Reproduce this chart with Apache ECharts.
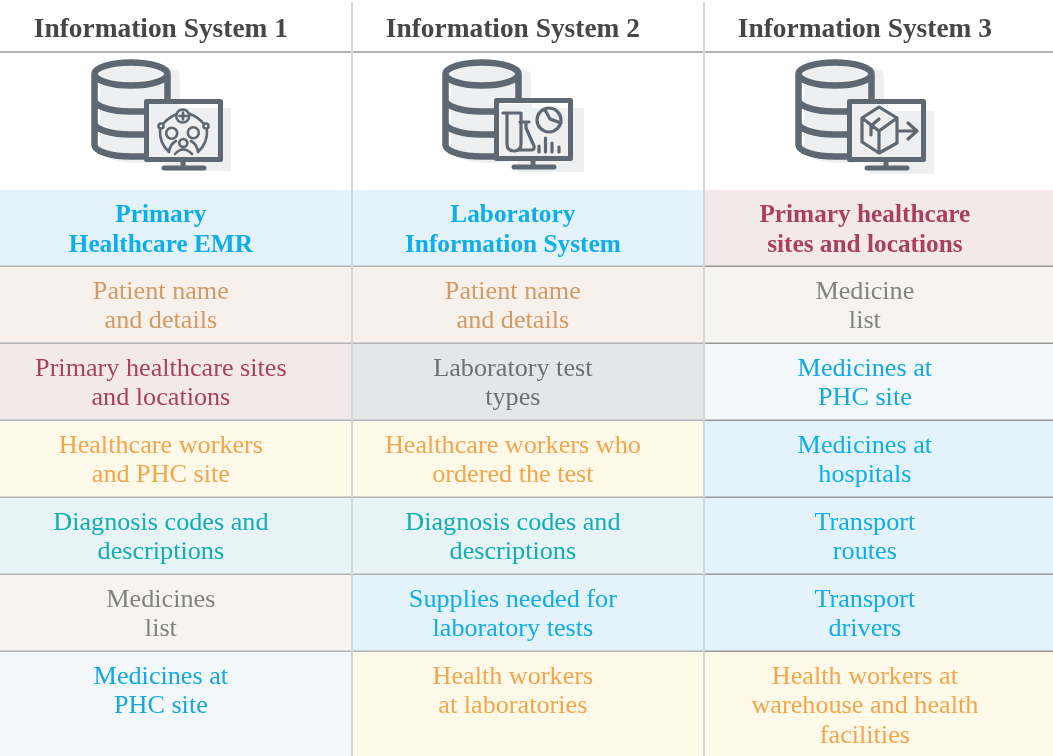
<!DOCTYPE html>
<html>
<head>
<meta charset="utf-8">
<title>Information systems</title>
<style>
html, body { margin: 0; padding: 0; background: #fff; }
#container { width: 1053px; height: 756px; }
</style>
<script src="https://cdn.jsdelivr.net/npm/echarts@6/dist/echarts.min.js"></script>
</head>
<body>
<div id="container"></div>
<script>
var systemNames = ['Information System 1', 'Information System 2', 'Information System 3'];

var system1Cells = ['Primary\nHealthcare EMR', 'Patient name\nand details', 'Primary healthcare sites\nand locations', 'Healthcare workers\nand PHC site', 'Diagnosis codes and\ndescriptions', 'Medicines\nlist', 'Medicines at\nPHC site'];
var system1Kinds = ['blue', 'patient', 'site', 'worker', 'diagnosis', 'list', 'stock'];

var system2Cells = ['Laboratory\nInformation System', 'Patient name\nand details', 'Laboratory test\ntypes', 'Healthcare workers who\nordered the test', 'Diagnosis codes and\ndescriptions', 'Supplies needed for\nlaboratory tests', 'Health workers\nat laboratories'];
var system2Kinds = ['blue', 'patient', 'test', 'worker', 'diagnosis', 'blue', 'worker'];

var system3Cells = ['Primary healthcare\nsites and locations', 'Medicine\nlist', 'Medicines at\nPHC site', 'Medicines at\nhospitals', 'Transport\nroutes', 'Transport\ndrivers', 'Health workers at\nwarehouse and health\nfacilities'];
var system3Kinds = ['site', 'list', 'stock', 'blue', 'blue', 'blue', 'worker'];

var kindColors = {
    blue: ['#e3f2fb', '#0fade9'],
    patient: ['#f8f1eb', '#d29a68'],
    site: ['#f3e9eb', '#a9405f'],
    test: ['#e5e6e8', '#6f7072'],
    worker: ['#fef9e9', '#f5a54a'],
    diagnosis: ['#e8f4f5', '#12aeb8'],
    list: ['#f6f4f1', '#828282'],
    stock: ['#f3f8fc', '#13a7e3']
};

var FONT = '"Liberation Serif", serif';
var INK = '#5d6872';
var SHADE = '#edeff1';
var COL_W = 352;
var ROW_H = 77;
var TABLE_TOP = 189;
var HEADER_ROW = -TABLE_TOP / ROW_H;
var TEXT_X = 0.457;

var columns = [[system1Cells, system1Kinds], [system2Cells, system2Kinds], [system3Cells, system3Kinds]];
var cellData = [];
columns.forEach(function (c, col) {
    c[0].forEach(function (t, row) {
        cellData.push([col, row, t, c[1][row]]);
    });
});

function solid(d, color) {
    return { type: 'path', shape: { pathData: d }, style: { fill: color } };
}
function stroke(d, w) {
    return { type: 'path', shape: { pathData: d }, style: { fill: 'none', stroke: INK, lineWidth: w, lineCap: 'round', lineJoin: 'round' } };
}
function ring(x, y, r) {
    return 'M' + (x - r) + ' ' + y + 'a' + r + ' ' + r + ' 0 1 0 ' + (2 * r) + ' 0a' + r + ' ' + r + ' 0 1 0 ' + (-2 * r) + ' 0';
}

// icon glyphs, in pixels from the top left of the picture
var glyphs = [
    ring(182.7, 116, 6.5) + 'M183 112.5v7M179.5 116h7' +
    ring(161, 126, 2.5) + ring(206, 126, 2.5) +
    ring(171.7, 133.3, 5.5) + ring(193.3, 132.7, 5.5) + ring(183.3, 143, 4) +
    'M175 154q8 -9 17 0M163 124q6 -7 14 -10M204 124q-6 -7 -14 -10' +
    'M160 129q-1 14 9 23q1 -8 7 -11M207 129q1 14 -9 23q-1 -8 -7 -11',
    'M503 113h17M507 113v31q0 7 7 7t7 -7v-31M520 122h9M526 122v6l8 18q1 4 -3 4h-14' +
    ring(549, 120, 12) + 'M545 110l5 9l11 4' +
    'M539 146v6M545.500 138v14M552 143v9M559 147v5',
    'M879 107l18 11v25l-18 10l-17 -11v-24zM862 118l17 13l18 -13M879 131v22' +
    'M879 119l-8 7v9M897 131h20M908 123l9 8l-9 8'
];
// per column nudges of the database and the monitor, plus the monitor shadow box
var iconShift = [
    { db: 0, screen: 0, up: 0, shadow: 'M165 108h66v63h-66z' },
    { db: -1, screen: -2, up: -1, shadow: 'M165 108h67v64h-67z' },
    { db: 0, screen: -1, up: 0, shadow: 'M165 111h65v63h-65z' }
];

function renderIcon(params, api) {
    var col = api.value(0);
    var s = iconShift[col];
    var origin = api.coord([col, HEADER_ROW]);
    var db = [
        solid('M100 75a40 11 0 0 1 80 0v76a40 12 0 0 1 -80 0z', SHADE),
        stroke('M94.500 74a36.500 11.500 0 1 0 73 0a36.500 11.500 0 1 0 -73 0' +
            'M94.500 74v71a36.500 11.500 0 0 0 36.500 11.500h16' +
            'M94.500 100a36.500 11.500 0 0 0 36.500 11.500h14' +
            'M94.500 123a36.500 11.500 0 0 0 36.500 11.500h14' +
            'M167.500 74v27', 6.5)
    ];
    var screen = [
        { type: 'rect', shape: { x: 146.500 + s.screen, y: 101.500 + s.up, width: 74, height: 58 }, style: { fill: '#fff' } },
        solid(s.shadow, SHADE),
        solid('M146 104h34v56h-34z', SHADE),
        { type: 'rect', shape: { x: 146.500 + s.screen, y: 101.500 + s.up, width: 74, height: 58 }, style: { fill: 'none', stroke: INK, lineWidth: 5, lineJoin: 'round' } },
        stroke('M' + (183 + s.screen) + ' ' + (160 + s.up) + 'v8M' + (164 + s.screen) + ' ' + (168 + s.up) + 'h40', 5)
    ];
    var glyph = stroke(glyphs[col], col === 0 ? 2.6 : 3.2);
    glyph.x = -COL_W * col;
    var children = [
        { type: 'group', x: s.db, children: db },
        { type: 'group', children: screen },
        glyph
    ];
    return { type: 'group', x: origin[0], y: origin[1], children: children };
}

function renderCell(params, api) {
    var col = api.value(0);
    var row = api.value(1);
    var cell = cellData[params.dataIndex];
    var colors = kindColors[cell[3]];
    var topLeft = api.coord([col, row]);
    var size = api.size([1, 1]);
    var children = [
        { type: 'rect', shape: { x: topLeft[0], y: topLeft[1] + 1, width: size[0], height: row === 6 ? size[1] * 2 : size[1] - 1 }, style: { fill: colors[0] } }
    ];
    if (row < 6) {
        children.push({ type: 'rect', shape: { x: topLeft[0], y: topLeft[1] + size[1] - 0.5, width: size[0], height: 1.5 }, style: { fill: col === 2 ? '#96989a' : '#b2b4b6' } });
    }
    children.push({
        type: 'text',
        style: {
            text: cell[2],
            x: api.coord([col + TEXT_X, row])[0],
            y: topLeft[1] + (row === 0 ? 12 : 11),
            align: 'center',
            verticalAlign: 'top',
            fill: colors[1],
            font: (row === 0 ? 'bold 25.3px ' : '26.2px ') + FONT,
            lineHeight: 29.5
        }
    });
    return { type: 'group', children: children };
}

function renderHeader(params, api) {
    var col = api.value(0);
    var p = api.coord([col + TEXT_X, HEADER_ROW]);
    return {
        type: 'text',
        style: { text: systemNames[col], x: p[0], y: 30, align: 'center', verticalAlign: 'middle', fill: '#444648', font: 'bold 27.4px ' + FONT }
    };
}

function renderRule(params, api) {
    var p = api.coord([0, HEADER_ROW]);
    return { type: 'rect', shape: { x: p[0], y: 51, width: api.getWidth(), height: 2 }, style: { fill: '#b0b1b3' } };
}

function renderDivider(params, api) {
    var p = api.coord([api.value(0), HEADER_ROW]);
    return { type: 'rect', shape: { x: p[0] - 1, y: 2, width: 2, height: api.getHeight() }, style: { fill: '#d2d5d9' } };
}

var container = document.getElementById('container');
var chart = echarts.init(container);
chart.setOption({
    animation: false,
    backgroundColor: '#fff',
    tooltip: { show: false },
    grid: { left: 0, right: 0, top: 0, bottom: 0 },
    xAxis: { type: 'value', min: 0, max: 1053 / COL_W, show: false },
    yAxis: { type: 'value', inverse: true, min: HEADER_ROW, max: (756 - TABLE_TOP) / ROW_H, show: false },
    series: [
        { type: 'custom', silent: true, clip: false, z: 1, renderItem: renderCell, data: cellData, encode: { x: 0, y: 1 } },
        { type: 'custom', silent: true, clip: false, z: 2, renderItem: renderRule, data: [[0]] },
        { type: 'custom', silent: true, clip: false, z: 3, renderItem: renderDivider, data: [[1], [2]] },
        { type: 'custom', silent: true, clip: false, z: 4, renderItem: renderHeader, data: [[0], [1], [2]] },
        { type: 'custom', silent: true, clip: false, z: 4, renderItem: renderIcon, data: [[0], [1], [2]] }
    ]
});
</script>
</body>
</html>
